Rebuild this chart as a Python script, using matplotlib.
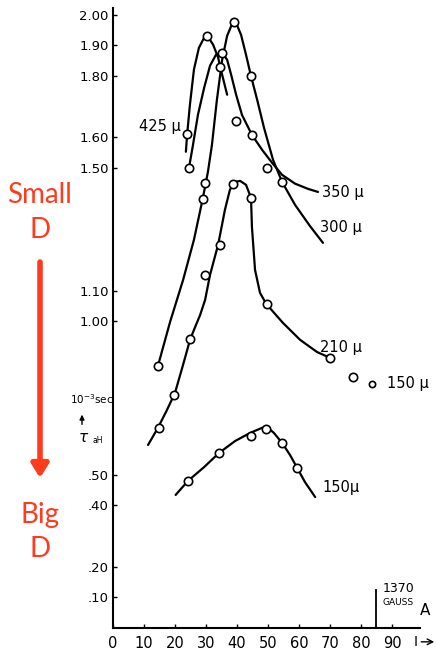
import matplotlib.pyplot as plt
from matplotlib.patches import FancyArrowPatch

# traced curves (A, tau in 1e-3 sec)
c425_a = [23.5, 23.9, 24.8, 26.1, 27.7, 29.4, 30.6, 32.3, 33.9, 35.2, 36.8]
c425_t = [1.553, 1.609, 1.706, 1.821, 1.892, 1.925, 1.928, 1.902, 1.860, 1.804, 1.739]
p425_a = [23.9, 30.3, 34.5]
p425_t = [1.61, 1.93, 1.83]

c350_a = [24.5, 25.8, 27.4, 29.4, 31.3, 33.2, 35.2, 36.8, 38.1, 39.7, 41.6, 44.8, 48.1, 51.3, 54.5, 58.7, 62.9, 66.1]
c350_t = [1.500, 1.576, 1.674, 1.762, 1.834, 1.869, 1.876, 1.853, 1.804, 1.739, 1.673, 1.608, 1.559, 1.517, 1.478, 1.449, 1.432, 1.422]
p350_a = [24.5, 35.2, 39.7, 44.8, 49.7]
p350_t = [1.50, 1.876, 1.654, 1.608, 1.50]

c300_a = [14.5, 18.4, 22.6, 26.1, 29.0, 30.6, 31.9, 33.5, 35.2, 36.8, 38.4, 39.7, 41.3, 42.9, 44.5, 46.5, 48.7, 51.6, 54.5, 58.7, 63.5, 67.7]
c300_t = [0.855, 0.998, 1.135, 1.266, 1.403, 1.487, 1.575, 1.722, 1.853, 1.931, 1.970, 1.973, 1.934, 1.869, 1.800, 1.722, 1.631, 1.527, 1.455, 1.380, 1.311, 1.256]
p300_a = [14.5, 29.0, 29.7, 39.1, 44.5, 54.5]
p300_t = [0.855, 1.40, 1.45, 1.975, 1.80, 1.455]

c210_a = [11.3, 14.5, 17.4, 20.0, 22.3, 23.5, 24.8, 26.5, 28.1, 29.7, 31.3, 33.9, 36.1, 37.7, 39.4, 41.0, 42.9, 44.5,
          44.8, 45.8, 47.4, 49.4, 54.8, 60.3, 65.8, 70.0]
c210_t = [0.597, 0.653, 0.711, 0.767, 0.848, 0.891, 0.939, 0.982, 1.021, 1.070, 1.152, 1.250, 1.364, 1.429, 1.455, 1.458,
          1.445, 1.403, 1.308, 1.168, 1.093, 1.057, 0.995, 0.940, 0.900, 0.881]
p210_a = [14.8, 19.8, 24.8, 29.6, 34.5, 38.6, 44.5, 49.5, 70.0]
p210_t = [0.653, 0.760, 0.942, 1.152, 1.250, 1.447, 1.402, 1.056, 0.882]

extra150_a = [77.3, 83.6]
extra150_t = [0.817, 0.795]

c150_a = [20.2, 24.2, 29.4, 34.2, 39.4, 44.2, 48.1, 50.0, 51.9, 54.5, 57.1, 59.4, 61.9, 65.2]
c150_t = [0.434, 0.480, 0.525, 0.571, 0.610, 0.636, 0.653, 0.653, 0.636, 0.604, 0.564, 0.522, 0.476, 0.427]
p150_a = [24.3, 34.3, 44.4, 49.4, 54.4, 59.3]
p150_t = [0.48, 0.572, 0.627, 0.648, 0.603, 0.521]

ytick_vals = [2.00, 1.90, 1.80, 1.60, 1.50, 1.10, 1.00, 0.50, 0.40, 0.20, 0.10]
ytick_labels = ["2.00", "1.90", "1.80", "1.60", "1.50", "1.10", "1.00", ".50", ".40", ".20", ".10"]
xtick_vals = [0, 10, 20, 30, 40, 50, 60, 70, 80, 90]

gauss_a = 84.8
red = "#ff3b1f"

fig = plt.figure(figsize=(4.37, 6.5), dpi=100)
ax = fig.add_axes([0.2586, 0.0338, 0.7025, 0.954])
ax.set_xlim(0, 99)
ax.set_ylim(0, 2.022)

line_kw = dict(color="black", lw=1.6, solid_capstyle="round")
pt_kw = dict(ls="none", marker="o", ms=6, mfc="white", mec="black", mew=1.2, zorder=3)

for ca, ct, pa, pt in [
    (c425_a, c425_t, p425_a, p425_t),
    (c350_a, c350_t, p350_a, p350_t),
    (c300_a, c300_t, p300_a, p300_t),
    (c210_a, c210_t, p210_a, p210_t),
    (c150_a, c150_t, p150_a, p150_t),
]:
    ax.plot(ca, ct, **line_kw)
    ax.plot(pa, pt, **pt_kw)

ax.plot(extra150_a[:1], extra150_t[:1], **pt_kw)
ax.plot(extra150_a[1:], extra150_t[1:], ls="none", marker="o", ms=4.5, mfc="white", mec="black", mew=1.2)

lab_kw = dict(fontsize=10.5, color="black", va="center")
ax.text(22.0, 1.634, "425 µ", ha="right", **lab_kw)
ax.text(67.4, 1.419, "350 µ", ha="left", **lab_kw)
ax.text(66.8, 1.305, "300 µ", ha="left", **lab_kw)
ax.text(66.8, 0.914, "210 µ", ha="left", **lab_kw)
ax.text(88.4, 0.796, "150 µ", ha="left", clip_on=False, **lab_kw)
ax.text(67.4, 0.457, "150µ", ha="left", **lab_kw)

# field marker
ax.plot([gauss_a, gauss_a], [0, 0.125], color="black", lw=1.3)
ax.text(87.0, 0.13, "1370", fontsize=9, ha="left", va="center")
ax.text(87.0, 0.082, "GAUSS", fontsize=6.5, ha="left", va="center")

# axes styling
for s in ("top", "right"):
    ax.spines[s].set_visible(False)
ax.spines["left"].set_linewidth(1.5)
ax.spines["bottom"].set_linewidth(1.5)
ax.set_yticks(ytick_vals)
ax.set_yticklabels(ytick_labels)
ax.set_xticks(xtick_vals)
ax.set_xticklabels([str(v) for v in xtick_vals])
ax.tick_params(axis="both", direction="in", length=3, width=1, labelsize=9.5, pad=3)
ax.tick_params(axis="x", pad=6, labelsize=10.5)

ax.text(100.5, 0.033, "A", fontsize=11, ha="center", va="bottom", clip_on=False)
ax.text(97.5, -0.045, "I", fontsize=10, ha="center", va="center", clip_on=False)
ax.annotate("", xy=(104.5, -0.045), xytext=(98.5, -0.045),
            arrowprops=dict(arrowstyle="->", lw=1, color="black"), annotation_clip=False)

# tau label
ax.text(-6.8, 0.745, "10$^{-3}$sec", fontsize=7.5, ha="center", va="center", clip_on=False)
ax.annotate("", xy=(-10.0, 0.705), xytext=(-10.0, 0.655),
            arrowprops=dict(arrowstyle="-|>", lw=1, color="black", mutation_scale=7), annotation_clip=False)
ax.text(-9.5, 0.62, r"$\tau$", fontsize=11, ha="center", va="center", clip_on=False)
ax.text(-5.0, 0.61, "aH", fontsize=5.5, ha="center", va="center", clip_on=False)

# red annotation
fig.text(40 / 437, 1 - 195 / 650, "Small", color=red, fontsize=20, family="Lato", ha="center", va="center")
fig.text(40 / 437, 1 - 230 / 650, "D", color=red, fontsize=20, family="Lato", ha="center", va="center")
fig.text(40 / 437, 1 - 515 / 650, "Big", color=red, fontsize=20, family="Lato", ha="center", va="center")
fig.text(40 / 437, 1 - 549 / 650, "D", color=red, fontsize=20, family="Lato", ha="center", va="center")
fig.patches.append(FancyArrowPatch(
    (40 / 437, 1 - 262 / 650), (40 / 437, 1 - 478 / 650), transform=fig.transFigure,
    arrowstyle="-|>,head_length=8,head_width=5", lw=4, color=red, shrinkA=0, shrinkB=0))

fig.savefig("out.png", dpi=100)
